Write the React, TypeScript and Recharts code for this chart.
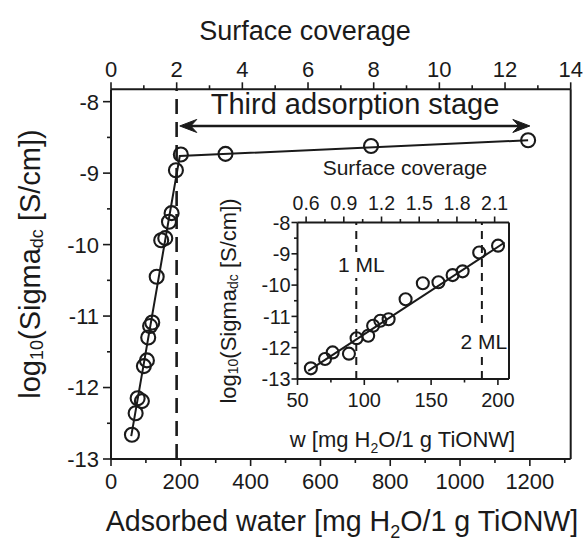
import React from 'react';
import { ComposedChart, XAxis, YAxis, Scatter, Line, ReferenceLine } from 'recharts';

const FONT = '"Liberation Sans", Arial, Helvetica, sans-serif';
const INK = '#1a1a1a';

// ---------- data ----------
// low-coverage measurements (shown in both main plot and inset)
const waterLow = [60, 70.6, 76.3, 88.5, 94.2, 102.9, 106.6, 112, 118.2, 130.9, 143.8, 155.5, 166.1, 173.6, 186, 200.1];
const logSigmaLow = [-12.66, -12.36, -12.15, -12.19, -11.7, -11.62, -11.3, -11.14, -11.09, -10.45, -9.94, -9.91, -9.68, -9.56, -8.96, -8.74];
// high-coverage measurements (main plot only)
const waterHigh = [328, 745, 1195];
const logSigmaHigh = [-8.73, -8.62, -8.54];
// fitted lines
const fitMainWater = [58, 197, 1195];
const fitMainLog = [-12.68, -8.76, -8.54];
const fitInsetWater = [58, 205];
const fitInsetLog = [-12.74, -8.64];
// reference markers
const stageArrowWater = [197, 1200];
const stageArrowLog = -8.34;
const twoCoverageWater = 188;
const monolayerWater = [94, 188];
const monolayerLabels = ['1 ML', '2 ML'];

// ---------- ticks ----------
const mainBottomTicks = [0, 100, 200, 300, 400, 500, 600, 700, 800, 900, 1000, 1100, 1200, 1300];
const mainBottomMajor = [0, 200, 400, 600, 800, 1000, 1200];
const mainTopTicks = [0, 1, 2, 3, 4, 5, 6, 7, 8, 9, 10, 11, 12, 13, 14];
const mainTopMajor = [0, 2, 4, 6, 8, 10, 12, 14];
const mainLeftTicks = [-13, -12.5, -12, -11.5, -11, -10.5, -10, -9.5, -9, -8.5, -8];
const mainLeftMajor = [-13, -12, -11, -10, -9, -8];
const insetBottomTicks = [50, 75, 100, 125, 150, 175, 200];
const insetBottomMajor = [50, 100, 150, 200];
const insetTopTicks = [0.6, 0.75, 0.9, 1.05, 1.2, 1.35, 1.5, 1.65, 1.8, 1.95, 2.1];
const insetTopMajor = [0.6, 0.9, 1.2, 1.5, 1.8, 2.1];
const insetLeftTicks = mainLeftTicks;
const insetLeftMajor = mainLeftMajor;

// layout
const MAIN_W_MAX = 1317;
const COV_PER_W = 14 / MAIN_W_MAX;
const INSET_W = [50, 208.3];

// ---------- tables built from the arrays ----------
const lowPoints = waterLow.map((x, i) => ({ x, y: logSigmaLow[i] }));
const mainPoints = lowPoints.concat(waterHigh.map((x, i) => ({ x, y: logSigmaHigh[i] })));
const fitMain = fitMainWater.map((x, i) => ({ x, y: fitMainLog[i] }));
const fitInset = fitInsetWater.map((x, i) => ({ x, y: fitInsetLog[i] }));
// same points expressed in surface coverage (drives the secondary axes)
const mainCoverage = mainPoints.map((p) => ({ x: p.x * COV_PER_W, y: p.y }));
const insetCoverage = lowPoints.map((p) => ({ x: p.x * COV_PER_W, y: p.y }));

const isIn = (arr: number[]) => (v: number) => arr.some((a) => Math.abs(a - v) < 1e-6);

type Side = 'bottom' | 'top' | 'left';
const makeTick = (side: Side, major: (v: number) => boolean, fmt: (v: number) => string, fontSize: number, majorLen: number, minorLen: number, off: number) =>
  (props: any) => {
    const { x, y, payload } = props;
    const v = payload.value as number;
    const mj = major(v);
    const len = mj ? majorLen : minorLen;
    if (side === 'bottom') {
      return (
        <g>
          <line x1={x} y1={y} x2={x} y2={y + len} stroke={INK} strokeWidth={1.6} />
          {mj && <text x={x} y={y + off} textAnchor="middle" fontSize={fontSize} fontFamily={FONT} fill={INK}>{fmt(v)}</text>}
        </g>
      );
    }
    if (side === 'top') {
      return (
        <g>
          <line x1={x} y1={y} x2={x} y2={y - len} stroke={INK} strokeWidth={1.6} />
          {mj && <text x={x} y={y - off} textAnchor="middle" fontSize={fontSize} fontFamily={FONT} fill={INK}>{fmt(v)}</text>}
        </g>
      );
    }
    return (
      <g>
        <line x1={x} y1={y} x2={x - len} y2={y} stroke={INK} strokeWidth={1.6} />
        {mj && <text x={x - off} y={y + fontSize * 0.36} textAnchor="end" fontSize={fontSize} fontFamily={FONT} fill={INK}>{fmt(v)}</text>}
      </g>
    );
  };

const circle = (r: number) => (props: any) => (
  <circle cx={props.cx} cy={props.cy} r={r} fill="none" stroke={INK} strokeWidth={2.1} />
);
const hidden = () => <g />;

const arrowShape = (props: any) => {
  const { x1, y1, x2 } = props;
  const y = y1;
  const L = 17;
  const H = 6.5;
  const b = 11;
  return (
    <g>
      <line x1={x1 + b} y1={y} x2={x2 - b} y2={y} stroke={INK} strokeWidth={2.5} />
      <polygon points={`${x1},${y} ${x1 + L},${y - H} ${x1 + b},${y} ${x1 + L},${y + H}`} fill={INK} stroke={INK} strokeWidth={1} />
      <polygon points={`${x2},${y} ${x2 - L},${y - H} ${x2 - b},${y} ${x2 - L},${y + H}`} fill={INK} stroke={INK} strokeWidth={1} />
    </g>
  );
};

const axisLine = { stroke: INK, strokeWidth: 2 };

function MainChart() {
  return (
    <ComposedChart width={585} height={545} margin={{ top: 0, right: 0, bottom: 0, left: 0 }}>
      <XAxis
        xAxisId="b" type="number" dataKey="x" orientation="bottom" domain={[0, MAIN_W_MAX]} ticks={mainBottomTicks}
        interval={0} height={86} tickSize={0} tickMargin={0} allowDataOverflow axisLine={axisLine}
        tick={makeTick('bottom', isIn(mainBottomMajor), (v) => String(v), 22, 7, 4, 30)}
        label={() => (
          <text x={342} y={531} textAnchor="middle" fontSize={28.6} fontFamily={FONT} fill={INK}>
            Adsorbed water [mg H<tspan dy={7} fontSize={18}>2</tspan><tspan dy={-7}>O/1 g TiONW]</tspan>
          </text>
        )}
      />
      <XAxis
        xAxisId="t" type="number" dataKey="x" orientation="top" domain={[0, 14]} ticks={mainTopTicks}
        interval={0} height={89.3} tickSize={0} tickMargin={0} allowDataOverflow axisLine={axisLine}
        tick={makeTick('top', isIn(mainTopMajor), (v) => String(v), 22, 7, 4, 12.6)}
        label={() => (
          <text x={305} y={40} textAnchor="middle" fontSize={27} fontFamily={FONT} fill={INK}>Surface coverage</text>
        )}
      />
      <YAxis
        yAxisId="l" type="number" dataKey="y" orientation="left" domain={[-13, -7.827]} ticks={mainLeftTicks}
        interval={0} width={111} tickSize={0} tickMargin={0} allowDataOverflow axisLine={axisLine}
        tick={makeTick('left', isIn(mainLeftMajor), (v) => String(v), 22, 8, 4, 12)}
        label={() => (
          <text x={30} y={264} transform="rotate(-90, 30, 264)" textAnchor="middle" dominantBaseline="central" fontSize={29} fontFamily={FONT} fill={INK}>
            log<tspan dy={7} fontSize={18}>10</tspan><tspan dy={-7}>(Sigma</tspan><tspan dy={7} fontSize={18}>dc</tspan><tspan dy={-7}> [S/cm])</tspan>
          </text>
        )}
      />
      <YAxis yAxisId="r" type="number" dataKey="y" orientation="right" domain={[-13, -7.827]} width={14.3} tick={false} tickLine={false} axisLine={axisLine} allowDataOverflow />
      <ReferenceLine xAxisId="b" yAxisId="l" x={twoCoverageWater} stroke={INK} strokeWidth={2.6} strokeDasharray="15 8" />
      <ReferenceLine
        xAxisId="b" yAxisId="l"
        segment={[{ x: stageArrowWater[0], y: stageArrowLog }, { x: stageArrowWater[1], y: stageArrowLog }]}
        shape={arrowShape}
        label={() => (
          <text x={355} y={114} textAnchor="middle" fontSize={29} fontFamily={FONT} fill={INK}>Third adsorption stage</text>
        )}
      />
      <Line xAxisId="b" yAxisId="l" data={fitMain} dataKey="y" type="linear" stroke={INK} strokeWidth={2} dot={false} isAnimationActive={false} />
      <Scatter xAxisId="b" yAxisId="l" data={mainPoints} shape={circle(7)} isAnimationActive={false} />
      <Scatter xAxisId="t" yAxisId="r" data={mainCoverage} shape={hidden} isAnimationActive={false} />
    </ComposedChart>
  );
}

const mlLabel = (text: string, dx: number, dyTop: number) => (props: any) => {
  const vb = props.viewBox || {};
  const cx = (vb.x ?? 0) + dx;
  const cy = (vb.y ?? 0) + dyTop;
  const w = 50;
  return (
    <g>
      <rect x={cx - w / 2} y={cy - 13} width={w} height={26} fill="#fff" />
      <text x={cx} y={cy + 7} textAnchor="middle" fontSize={21} fontFamily={FONT} fill={INK}>{text}</text>
    </g>
  );
};

function InsetChart() {
  return (
    <ComposedChart width={315} height={305} margin={{ top: 0, right: 20, bottom: 0, left: 0 }}>
      <XAxis
        xAxisId="b" type="number" dataKey="x" orientation="bottom" domain={INSET_W} ticks={insetBottomTicks}
        interval={0} height={76} tickSize={0} tickMargin={0} allowDataOverflow axisLine={axisLine}
        tick={makeTick('bottom', isIn(insetBottomMajor), (v) => String(v), 20, 6, 3.5, 28)}
        label={() => (
          <text x={187.5} y={297} textAnchor="middle" fontSize={22} fontFamily={FONT} fill={INK}>
            w [mg H<tspan dy={6} fontSize={14}>2</tspan><tspan dy={-6}>O/1 g TiONW]</tspan>
          </text>
        )}
      />
      <XAxis
        xAxisId="t" type="number" dataKey="x" orientation="top" domain={[INSET_W[0] * COV_PER_W, INSET_W[1] * COV_PER_W]} ticks={insetTopTicks}
        interval={0} height={72.5} tickSize={0} tickMargin={0} allowDataOverflow axisLine={axisLine}
        tick={makeTick('top', isIn(insetTopMajor), (v) => v.toFixed(1), 19.5, 6, 3.5, 13)}
        label={() => (
          <text x={190} y={25} textAnchor="middle" fontSize={21} fontFamily={FONT} fill={INK}>Surface coverage</text>
        )}
      />
      <YAxis
        yAxisId="l" type="number" dataKey="y" orientation="left" domain={[-13, -8]} ticks={insetLeftTicks}
        interval={0} width={82.5} tickSize={0} tickMargin={0} allowDataOverflow axisLine={axisLine}
        tick={makeTick('left', isIn(insetLeftMajor), (v) => String(v), 20, 6, 3.5, 7)}
        label={() => (
          <text x={13} y={151} transform="rotate(-90, 13, 151)" textAnchor="middle" dominantBaseline="central" fontSize={22} fontFamily={FONT} fill={INK}>
            log<tspan dy={5} fontSize={14}>10</tspan><tspan dy={-5}>(Sigma</tspan><tspan dy={5} fontSize={14}>dc</tspan><tspan dy={-5}> [S/cm])</tspan>
          </text>
        )}
      />
      <YAxis yAxisId="r" type="number" dataKey="y" orientation="right" domain={[-13, -8]} width={1} tick={false} tickLine={false} axisLine={axisLine} allowDataOverflow />
      <ReferenceLine xAxisId="b" yAxisId="l" x={monolayerWater[0]} stroke={INK} strokeWidth={2} strokeDasharray="8 6" label={mlLabel(monolayerLabels[0], 5, 42.5)} />
      <ReferenceLine xAxisId="b" yAxisId="l" x={monolayerWater[1]} stroke={INK} strokeWidth={2} strokeDasharray="8 6" label={mlLabel(monolayerLabels[1], 2, 119.5)} />
      <Line xAxisId="b" yAxisId="l" data={fitInset} dataKey="y" type="linear" stroke={INK} strokeWidth={2} dot={false} isAnimationActive={false} />
      <Scatter xAxisId="b" yAxisId="l" data={lowPoints} shape={circle(6)} isAnimationActive={false} />
      <Scatter xAxisId="t" yAxisId="r" data={insetCoverage} shape={hidden} isAnimationActive={false} />
    </ComposedChart>
  );
}

export default function App() {
  return (
    <div style={{ position: 'absolute', left: 0, top: 0, width: 585, height: 545, background: '#fff' }}>
      <MainChart />
      <div style={{ position: 'absolute', left: 215, top: 150, width: 315, height: 305 }}>
        <InsetChart />
      </div>
    </div>
  );
}
